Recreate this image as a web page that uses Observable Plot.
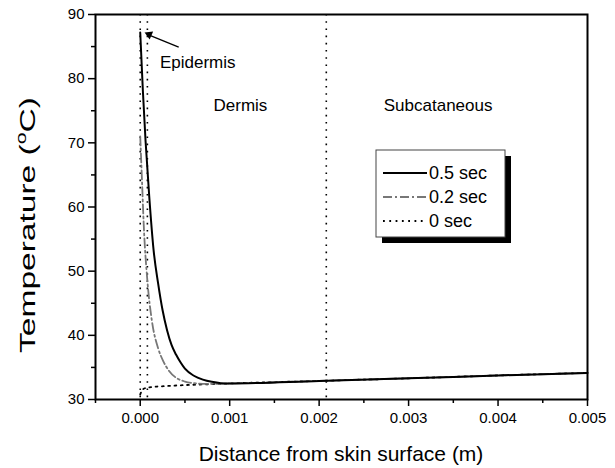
<!DOCTYPE html>
<html><head><meta charset="utf-8">
<script src="https://cdn.jsdelivr.net/npm/d3@7"></script>
<script src="https://cdn.jsdelivr.net/npm/@observablehq/plot@0.6"></script>
<style>
body{margin:0;background:#fff;}
svg{font-family:"Liberation Sans",Arial,sans-serif;}
</style>
</head><body><div id="chart"></div>
<script>
// 0.5 sec series
const x05 = [0, 0.00003, 0.00006, 0.0001, 0.00015, 0.0002, 0.00025, 0.0003, 0.00035, 0.0004, 0.00045, 0.0005, 0.0006, 0.0007, 0.0008, 0.0009, 0.001, 0.002, 0.003, 0.004, 0.005];
const t05 = [87.2, 78.0, 70.2, 61.8, 53.2, 48.1, 43.9, 40.8, 38.5, 37.0, 35.8, 34.8, 33.7, 33.1, 32.75, 32.55, 32.5, 32.9, 33.3, 33.75, 34.15];
// 0.2 sec series
const x02 = [0, 0.00002, 0.00004, 0.00008, 0.00013, 0.0002, 0.00026, 0.00032, 0.0004, 0.0005, 0.0006, 0.0007, 0.0008, 0.001, 0.002, 0.003, 0.004, 0.005];
const t02 = [71, 64, 57, 48.5, 42.3, 38.0, 35.9, 34.5, 33.4, 32.8, 32.55, 32.45, 32.45, 32.5, 32.9, 33.3, 33.75, 34.15];
// 0 sec series
const x0 = [0, 0.00003, 0.0001, 0.0003, 0.0006, 0.0008, 0.001, 0.002, 0.003, 0.004, 0.005];
const t0 = [30.8, 31.6, 31.9, 32.1, 32.3, 32.4, 32.5, 32.9, 33.3, 33.75, 34.15];
// layer boundaries
const boundaries = [0, 0.00008, 0.00208];
// region labels
const regionNames = ["Dermis", "Subcataneous"];
const regionX = [0.00112, 0.00333];
const regionY = [74.9, 75];
// epidermis annotation
const epiName = ["Epidermis"];
const epiX = [0.00022];
const epiY = [81.7];
const arrowX1 = [0.00043], arrowY1 = [84.9], arrowX2 = [0.00008], arrowY2 = [86.9];
const headX = [0.0000995], headY = [86.88], headAngle = [-66];
// ticks
const xMajor = [0, 0.001, 0.002, 0.003, 0.004, 0.005];
const xMinor = [-0.0005, 0.0005, 0.0015, 0.0025, 0.0035, 0.0045];
const yMajor = [30, 40, 50, 60, 70, 80, 90];
const yMinor = [35, 45, 55, 65, 75, 85];
// legend
const seriesNames = ["0.5 sec", "0.2 sec", "0 sec"];

const s05 = x05.map((x, i) => ({x, t: t05[i]}));
const s02 = x02.map((x, i) => ({x, t: t02[i]}));
const s0 = x0.map((x, i) => ({x, t: t0[i]}));

const W = 615, H = 468;
const chart = Plot.plot({
  width: W, height: H,
  marginLeft: 95, marginRight: 28, marginTop: 14, marginBottom: 69,
  style: {fontFamily: '"Liberation Sans", Arial, sans-serif', background: "#fff", color: "#000"},
  x: {domain: [-0.0005, 0.005]},
  y: {domain: [30, 90]},
  marks: [
    Plot.ruleX(boundaries, {stroke: "#000", strokeWidth: 1.6, strokeDasharray: "1.6,5.6"}),
    Plot.line(s0, {x: "x", y: "t", stroke: "#000", strokeWidth: 1.8, strokeDasharray: "1.8,4.5", curve: "monotone-x"}),
    Plot.line(s02, {x: "x", y: "t", stroke: "#777", strokeWidth: 1.8, strokeDasharray: "9,3,2,3", curve: "monotone-x"}),
    Plot.line(s05, {x: "x", y: "t", stroke: "#000", strokeWidth: 2, curve: "monotone-x"}),
    Plot.link([0], {x1: () => arrowX1[0], y1: () => arrowY1[0], x2: () => arrowX2[0], y2: () => arrowY2[0], stroke: "#000", strokeWidth: 1.3}),
    Plot.dot([0], {x: () => headX[0], y: () => headY[0], symbol: "triangle", rotate: () => headAngle[0], r: 3.2, fill: "#000", stroke: "none"}),
    Plot.text(epiName, {x: (d, i) => epiX[i], y: (d, i) => epiY[i], text: d => d, textAnchor: "start", lineAnchor: "bottom", fontSize: 17, fill: "#000"}),
    Plot.text(regionNames, {x: (d, i) => regionX[i], y: (d, i) => regionY[i], text: d => d, textAnchor: "middle", lineAnchor: "bottom", fontSize: 17, fill: "#000"}),
    Plot.axisX({ticks: xMajor, tickSize: 7, tickPadding: 6, tickFormat: d3.format(".3f"), fontSize: 15, strokeWidth: 1.5, label: null}),
    Plot.axisX({ticks: xMinor, tickSize: 4, text: null, strokeWidth: 1.5, label: null}),
    Plot.axisY({ticks: yMajor, tickSize: 7, tickPadding: 4, fontSize: 15, strokeWidth: 1.5, label: null}),
    Plot.axisY({ticks: yMinor, tickSize: 4, text: null, strokeWidth: 1.5, label: null}),
    Plot.frame({stroke: "#000", strokeWidth: 2})
  ]
});
document.getElementById("chart").appendChild(chart);

const svg = d3.select(chart);
// axis titles
svg.append("text").attr("x", 341).attr("y", 461).attr("text-anchor", "middle")
  .attr("font-size", 21).attr("fill", "#000").text("Distance from skin surface (m)");
const yt = svg.append("text").attr("text-anchor", "middle")
  .attr("font-size", 22).attr("fill", "#000");
yt.append("tspan").text("Temperature (");
yt.append("tspan").attr("font-size", 14).attr("dy", -9).text("o");
yt.append("tspan").attr("dy", 9).text("C)");
const ylen = yt.node().getComputedTextLength() || 180;
yt.attr("transform", `translate(35,225) rotate(-90) scale(${256 / ylen},1)`);

// legend
const lg = svg.append("g").attr("text-anchor", "start");
const lx = 376, ly = 150, lw = 129, lh = 87;
lg.append("rect").attr("x", lx + 6).attr("y", ly + 6).attr("width", lw).attr("height", lh).attr("fill", "#000");
lg.append("rect").attr("x", lx).attr("y", ly).attr("width", lw).attr("height", lh).attr("fill", "#fff").attr("stroke", "#444").attr("stroke-width", 1);
const styles = [
  {stroke: "#000", dash: null, w: 2},
  {stroke: "#777", dash: "9,3,2,3", w: 1.8},
  {stroke: "#000", dash: "1.8,4.5", w: 1.8}
];
const rowY = [173, 197, 221];
seriesNames.forEach((name, i) => {
  const l = lg.append("line").attr("x1", 383).attr("x2", 427).attr("y1", rowY[i]).attr("y2", rowY[i])
    .attr("stroke", styles[i].stroke).attr("stroke-width", styles[i].w);
  if (styles[i].dash) l.attr("stroke-dasharray", styles[i].dash);
  lg.append("text").attr("x", 429).attr("y", rowY[i] + 6).attr("text-anchor", "start")
    .attr("font-size", 18).attr("fill", "#000").text(name);
});
</script>
</body></html>
